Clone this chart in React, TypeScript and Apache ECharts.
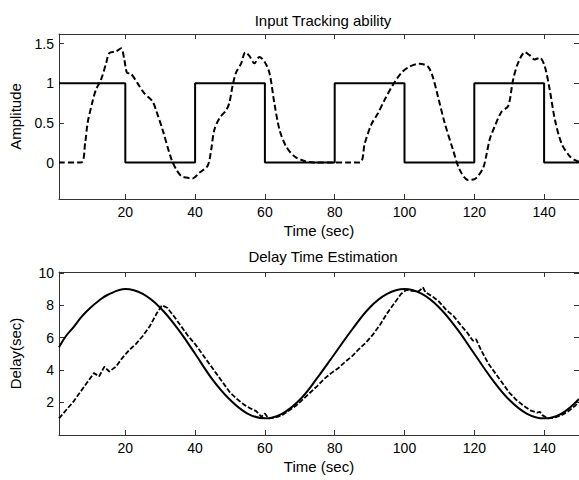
import React, { useEffect, useRef } from "react";
import * as echarts from "echarts";

const xTicks = [20, 40, 60, 80, 100, 120, 140];
const ampTicks = [0, 0.5, 1, 1.5];
const delayTicks = [2, 4, 6, 8, 10];

const inputTime = [1, 20, 20, 40, 40, 60, 60, 80, 80, 100, 100, 120, 120, 140, 140, 150];
const inputValue = [1, 1, 0, 0, 1, 1, 0, 0, 1, 1, 0, 0, 1, 1, 0, 0];

const respTime = [
  1, 7.3, 8.5, 9.2, 10.5, 11.6, 13, 14.5, 15.4, 17.3, 18.8, 19.7, 20.5, 21.6, 23.5, 25.4, 27.8, 28.8,
  30.7, 33.1, 34.5, 36, 37.4, 39.3, 41.2, 43.6, 44.6, 45.5, 47, 48.9, 49.8, 50.8, 51.7, 53.2, 54.4,
  55.6, 57, 58.4, 59.9, 61.3, 62.7, 64.2, 66.1, 68.5, 71.3, 74, 87.1, 88.6, 90.5, 92.4, 94.3, 96.7,
  99.1, 101.5, 104.3, 106.7, 108.1, 109.6, 111.5, 113.9, 115.8, 118.2, 120.1, 122.5, 123.5, 124.4,
  125.8, 127.8, 129.7, 131.1, 132.5, 134.5, 135.9, 137.3, 138.8, 140.2, 141.6, 143.1, 145, 147.4,
  149.3, 150,
];
const respValue = [
  0, 0, 0.25, 0.5, 0.75, 0.92, 1.04, 1.25, 1.38, 1.4, 1.44, 1.3, 1.13, 1.12, 1.0, 0.875, 0.77, 0.66,
  0.41, 0.055, -0.08, -0.17, -0.19, -0.2, -0.13, -0.04, 0.16, 0.41, 0.56, 0.66, 0.75, 0.98, 1.13, 1.25,
  1.39, 1.34, 1.25, 1.33, 1.27, 1.13, 0.75, 0.41, 0.2, 0.076, 0.02, 0, 0, 0.24, 0.48, 0.62, 0.79, 0.98,
  1.13, 1.21, 1.245, 1.21, 1.08, 0.83, 0.5, 0.16, -0.09, -0.22, -0.21, -0.07, 0.1, 0.29, 0.45, 0.64,
  0.71, 1.04, 1.25, 1.39, 1.35, 1.3, 1.32, 1.21, 0.92, 0.54, 0.24, 0.076, 0.02, 0.01,
];

const refDelayTime = [
  1, 3, 5, 7.5, 10, 12.5, 15, 20, 25, 30, 35, 40, 45, 50, 55, 60, 65, 70, 75, 80, 85, 90, 95, 100, 105,
  110, 115, 120, 125, 130, 135, 140, 145, 150,
];
const refDelayValue = [
  5.4, 6.1, 6.6, 7.3, 7.85, 8.3, 8.65, 9.0, 8.7, 7.85, 6.55, 5.0, 3.4, 2.15, 1.3, 1.0, 1.3, 2.15, 3.5,
  5.0, 6.5, 7.85, 8.7, 9.0, 8.7, 7.85, 6.55, 5.0, 3.45, 2.15, 1.3, 1.0, 1.3, 2.2,
];

const estDelayTime = [
  1, 3, 5, 7, 9, 11, 12.5, 14, 15.4, 17.3, 19, 21, 23, 25, 27, 29, 30.5, 32, 34, 36, 38, 40, 42, 44,
  46, 48, 50, 52, 54, 56, 57.5, 59, 60, 61, 63, 65, 67, 69, 71, 73, 75, 77, 79, 81, 83, 85, 87, 89, 91,
  93, 95, 97, 99, 100.5, 102, 104, 105.3, 106, 108, 110, 112, 114, 116, 118, 119.6, 120.5, 122, 124,
  126, 128, 130, 132, 134, 136, 138, 138.8, 139.5, 141, 143, 145, 147, 149, 150,
];
const estDelayValue = [
  1.0, 1.5, 2.0, 2.6, 3.2, 3.8, 3.6, 4.2, 3.9, 4.2, 4.7, 5.2, 5.6, 6.1, 6.7, 7.5, 8.0, 7.85, 7.3, 6.7,
  6.1, 5.6, 5.0, 4.4, 3.8, 3.2, 2.6, 2.2, 1.85, 1.6, 1.45, 1.1, 1.3, 1.0, 1.05, 1.2, 1.5, 1.8, 2.2,
  2.6, 3.0, 3.45, 3.8, 4.1, 4.5, 4.85, 5.3, 5.7, 6.2, 6.8, 7.5, 8.1, 8.7, 8.95, 8.9, 8.85, 9.1, 8.8,
  8.55, 8.2, 7.7, 7.35, 6.8, 6.3, 5.8, 5.9, 5.2, 4.4, 3.8, 3.2, 2.6, 2.15, 1.8, 1.5, 1.35, 1.4, 1.2,
  1.0, 1.05, 1.2, 1.45, 1.8, 2.0,
];

const zip = (t: number[], v: number[]) => t.map((x, i) => [x, v[i]]);

const FONT = "'Liberation Sans', Arial, sans-serif";
const AX = "#333";
const TICK_FS = 14;
const NAME_FS = 15;

function mainX(gridIndex: number) {
  return {
    type: "value",
    gridIndex,
    position: "bottom",
    min: 1,
    max: 150,
    name: "Time (sec)",
    nameLocation: "middle",
    nameGap: 24,
    nameTextStyle: { color: "#000", fontSize: NAME_FS, fontFamily: FONT },
    axisLine: { show: true, onZero: false, lineStyle: { color: AX, width: 1 } },
    axisTick: { show: true, inside: true, length: 5, customValues: xTicks, lineStyle: { color: AX } },
    axisLabel: { show: true, customValues: xTicks, color: "#000", fontSize: TICK_FS, fontFamily: FONT, margin: 6 },
    splitLine: { show: false },
  };
}
function topX(gridIndex: number) {
  return {
    type: "value",
    gridIndex,
    position: "top",
    min: 1,
    max: 150,
    axisLine: { show: true, onZero: false, lineStyle: { color: AX, width: 1 } },
    axisTick: { show: true, inside: true, length: 5, customValues: xTicks, lineStyle: { color: AX } },
    axisLabel: { show: false, customValues: xTicks },
    splitLine: { show: false },
  };
}
function mainY(gridIndex: number, min: number, max: number, ticks: number[], name: string) {
  return {
    type: "value",
    gridIndex,
    position: "left",
    min,
    max,
    name,
    nameLocation: "middle",
    nameGap: 36,
    nameTextStyle: { color: "#000", fontSize: NAME_FS, fontFamily: FONT },
    axisLine: { show: true, onZero: false, lineStyle: { color: AX, width: 1 } },
    axisTick: { show: true, inside: true, length: 5, customValues: ticks, lineStyle: { color: AX } },
    axisLabel: { show: true, customValues: ticks, color: "#000", fontSize: TICK_FS, fontFamily: FONT, margin: 5 },
    splitLine: { show: false },
  };
}
function rightY(gridIndex: number, min: number, max: number, ticks: number[]) {
  return {
    type: "value",
    gridIndex,
    position: "right",
    min,
    max,
    axisLine: { show: true, onZero: false, lineStyle: { color: AX, width: 1 } },
    axisTick: { show: true, inside: true, length: 5, customValues: ticks, lineStyle: { color: AX } },
    axisLabel: { show: false, customValues: ticks },
    splitLine: { show: false },
  };
}

export default function App() {
  const ref = useRef<HTMLDivElement>(null);
  useEffect(() => {
    if (!ref.current) return;
    const chart = echarts.init(ref.current, undefined, { renderer: "svg" });
    chart.setOption({
      animation: false,
      backgroundColor: "#fff",
      textStyle: { fontFamily: FONT },
      title: [
        {
          text: "Input Tracking ability",
          left: 318,
          textAlign: "center",
          top: 8,
          textStyle: { fontSize: NAME_FS, fontWeight: "normal", color: "#000", fontFamily: FONT },
        },
        {
          text: "Delay Time Estimation",
          left: 318,
          textAlign: "center",
          top: 244,
          textStyle: { fontSize: NAME_FS, fontWeight: "normal", color: "#000", fontFamily: FONT },
        },
      ],
      grid: [
        { left: 59, top: 34, width: 521, height: 165 },
        { left: 59, top: 272, width: 521, height: 163 },
      ],
      xAxis: [mainX(0), topX(0), mainX(1), topX(1)],
      yAxis: [
        mainY(0, -0.46, 1.62, ampTicks, "Amplitude"),
        rightY(0, -0.46, 1.62, ampTicks),
        mainY(1, -0.03, 10.06, delayTicks, "Delay(sec)"),
        rightY(1, -0.03, 10.06, delayTicks),
      ],
      series: [
        {
          type: "line",
          xAxisIndex: 0,
          yAxisIndex: 0,
          data: zip(inputTime, inputValue),
          showSymbol: false,
          lineStyle: { color: "#000", width: 2 },
        },
        {
          type: "line",
          xAxisIndex: 0,
          yAxisIndex: 0,
          data: zip(respTime, respValue),
          showSymbol: false,
          smooth: 0.3,
          lineStyle: { color: "#000", width: 2, type: [6, 3] },
        },
        {
          type: "line",
          xAxisIndex: 2,
          yAxisIndex: 2,
          data: zip(refDelayTime, refDelayValue),
          showSymbol: false,
          smooth: 0.4,
          lineStyle: { color: "#000", width: 2 },
        },
        {
          type: "line",
          xAxisIndex: 2,
          yAxisIndex: 2,
          data: zip(estDelayTime, estDelayValue),
          showSymbol: false,
          lineStyle: { color: "#000", width: 1.8, type: [5, 2] },
        },
      ],
    });
    return () => chart.dispose();
  }, []);
  return (
    <div
      ref={ref}
      style={{ position: "fixed", left: 0, top: 0, width: 579, height: 480, background: "#fff" }}
    />
  );
}
